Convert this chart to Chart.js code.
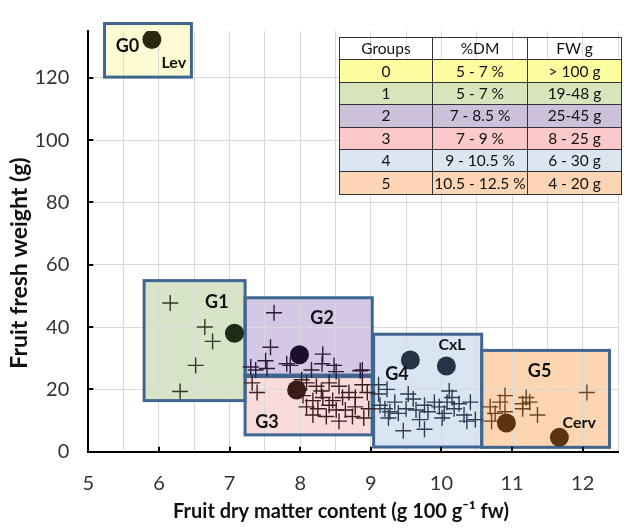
<!DOCTYPE html>
<html>
<head>
<meta charset="utf-8">
<script src="https://cdn.jsdelivr.net/npm/chart.js@4.4.1/dist/chart.umd.min.js"></script>
<style>
  html, body { margin: 0; padding: 0; background: #ffffff; }
  #wrap { position: relative; width: 638px; height: 528px; overflow: hidden; }
  #c { position: absolute; left: 0; top: 0; }
  #tbl { position: absolute; left: 339px; top: 37px; border-collapse: collapse;
         font-family: Lato, "Open Sans", sans-serif; font-size: 15.5px; color: #111; }
  #tbl td { border: 1px solid #333; height: 21.4px; padding: 0; text-align: center; line-height: 21px; }
  #tbl td.c0 { width: 92px; } #tbl td.c1 { width: 94px; } #tbl td.c2 { width: 93px; }
</style>
</head>
<body>
<div id="wrap">
  <canvas id="c" width="638" height="528"></canvas>
  <table id="tbl"></table>
</div>
<script>
// ---------- DATA ----------
const xTickValues = [5, 6, 7, 8, 9, 10, 11, 12];
const yTickValues = [0, 20, 40, 60, 80, 100, 120];
const xTitle = 'Fruit dry matter content (g 100 g\u207B\u00B9 fw)';
const yTitle = 'Fruit fresh weight (g)';

// crosses per group (x = %DM, y = fresh weight g)
const g1X = [6.16, 6.65, 6.76, 6.52, 6.30];
const g1Y = [47.7, 40.0, 35.4, 27.7, 19.3];

const g2X = [7.63, 7.58, 7.51, 7.53, 7.30, 7.37, 7.81, 7.86, 8.32, 8.31, 8.48, 8.51, 8.85, 8.16, 8.88];
const g2Y = [44.6, 33.5, 29.2, 26.7, 27.2, 26.2, 28.2, 27.7, 31.3, 28.2, 27.7, 25.7, 26.0, 26.2, 26.2];

const g3X = [7.39, 7.32, 8.09, 8.23, 8.41, 8.55, 8.69, 8.04, 8.18, 8.32, 8.46, 8.60, 8.78, 8.95, 8.88,
             8.09, 8.25, 8.41, 8.51, 8.18, 8.37, 8.55, 8.74, 8.90, 8.64, 7.97, 8.78, 8.97, 8.30, 8.02];
const g3Y = [19.0, 22.1, 22.1, 21.0, 22.1, 21.0, 19.0, 18.0, 16.4, 17.4, 16.4, 17.4, 17.4, 19.0, 21.5,
             14.4, 13.8, 14.9, 13.4, 11.8, 11.3, 9.8, 11.3, 10.8, 13.4, 19.5, 14.4, 13.8, 19.5, 23.1];

const g4X = [9.11, 9.23, 9.13, 9.20, 9.27, 9.34, 9.25, 9.53, 9.60, 9.50, 9.64, 9.76, 9.81, 9.69, 9.46, 9.76,
             9.90, 9.97, 10.11, 10.15, 10.08, 10.18, 10.04, 10.25, 10.32, 10.41, 10.48, 9.11, 9.39, 10.01, 10.36];
const g4Y = [18.5, 20.0, 14.9, 13.8, 12.8, 15.9, 10.8, 18.5, 16.9, 13.8, 13.4, 14.9, 12.8, 10.3, 6.7, 7.2,
             15.9, 14.4, 19.5, 17.4, 15.9, 13.8, 12.3, 15.4, 11.8, 15.9, 10.3, 21.5, 12.3, 10.8, 9.8];

const g5X = [10.90, 10.83, 10.69, 10.76, 10.71, 10.90, 11.20, 11.15, 11.25, 11.15, 11.36, 12.06];
const g5Y = [18.0, 15.9, 14.4, 12.3, 9.8, 12.8, 17.4, 15.4, 15.9, 13.8, 11.8, 19.0];

// reference cultivars (large dots)
const refX = [5.90, 7.07, 7.99, 7.95, 9.56, 10.07, 10.92, 11.67];
const refY = [132.3, 38.0, 31.1, 19.8, 29.4, 27.5, 9.2, 4.6];
const refGroup = [0, 1, 2, 3, 4, 4, 5, 5];

// group boxes (ranges in data units)
const boxGroup = [0, 1, 2, 3, 4, 5];
const boxXMin = [5.23, 5.79, 7.22, 7.22, 9.04, 10.57];
const boxXMax = [6.46, 7.22, 9.02, 9.02, 10.57, 12.38];
const boxYMin = [120.2, 16.4, 24.6, 5.4, 1.5, 1.4];
const boxYMax = [137.4, 54.9, 49.4, 24.1, 37.7, 32.5];

// text annotations
const noteText = ['G0', 'Lev', 'G1', 'G2', 'G3', 'G4', 'CxL', 'G5', 'Cerv'];
const noteX = [5.555, 6.21, 6.82, 8.31, 7.53, 9.37, 10.15, 11.39, 11.95];
const noteY = [130.0, 124.8, 47.9, 43.0, 9.4, 24.8, 34.4, 25.8, 9.4];

// table
const tableHeader = ['Groups', '%DM', 'FW g'];
const tableGroups = ['0', '1', '2', '3', '4', '5'];
const tableDM = ['5 - 7 %', '5 - 7 %', '7 - 8.5 %', '7 - 9 %', '9 - 10.5 %', '10.5 - 12.5 %'];
const tableFW = ['> 100 g', '19-48 g', '25-45 g', '8 - 25 g', '6 - 30 g', '4 - 20 g'];

// ---------- STYLES ----------
const FONT = 'Lato, "Open Sans", sans-serif';
const boxFill = ['#fdfbd3', '#d8e4c8', '#d4c8e6', '#fadbdb', '#dae5f3', '#fcd6b2'];
const boxStroke = '#3f6690';
const crossColor = ['#333', '#2b3a1e', '#2c1a3a', '#3e1f1f', '#2b3d50', '#6b4420'];
const dotColor = ['#2b2a0e', '#1e2b16', '#1c0f2e', '#3b1c18', '#243447', '#5b3513'];
const rowFill = ['#fdfca0', '#d8e4bc', '#ccc0da', '#fbc9c9', '#dce6f1', '#fcd5b4'];

// ---------- TABLE (HTML) ----------
(function buildTable() {
  const t = document.getElementById('tbl');
  let html = '<tr>' + tableHeader.map((h, i) => `<td class="c${i}">${h}</td>`).join('') + '</tr>';
  tableGroups.forEach((g, i) => {
    html += `<tr style="background:${rowFill[i]}"><td class="c0">${g}</td><td class="c1">${tableDM[i]}</td><td class="c2">${tableFW[i]}</td></tr>`;
  });
  t.innerHTML = html;
})();

// ---------- CHART ----------
const zip = (xs, ys) => xs.map((x, i) => ({ x, y: ys[i] }));
const crossSets = [[g1X, g1Y], [g2X, g2Y], [g3X, g3Y], [g4X, g4Y], [g5X, g5Y]].map((s, i) => ({
  label: 'G' + (i + 1),
  data: zip(s[0], s[1]),
  pointStyle: 'cross',
  pointRadius: 8,
  pointHoverRadius: 8,
  borderColor: crossColor[i + 1],
  backgroundColor: crossColor[i + 1],
  pointBorderWidth: 1.4,
  order: 2
}));

const boxesPlugin = {
  id: 'boxes',
  beforeDraw(chart) {
    const { ctx, scales: { x, y } } = chart;
    ctx.save();
    boxGroup.forEach((g, i) => {
      const l = x.getPixelForValue(boxXMin[i]), r = x.getPixelForValue(boxXMax[i]);
      const t = y.getPixelForValue(boxYMax[i]), b = y.getPixelForValue(boxYMin[i]);
      ctx.fillStyle = boxFill[g];
      ctx.fillRect(l, t, r - l, b - t);
    });
    ctx.restore();
  },
  beforeDatasetsDraw(chart) {
    const { ctx, scales: { x, y } } = chart;
    ctx.save();
    ctx.strokeStyle = boxStroke;
    ctx.lineWidth = 3;
    boxGroup.forEach((g, i) => {
      const l = x.getPixelForValue(boxXMin[i]), r = x.getPixelForValue(boxXMax[i]);
      const t = y.getPixelForValue(boxYMax[i]), b = y.getPixelForValue(boxYMin[i]);
      ctx.strokeRect(l, t, r - l, b - t);
    });
    // inner tick marks
    ctx.strokeStyle = '#000';
    ctx.lineWidth = 2;
    const y0 = y.getPixelForValue(0), x0 = x.getPixelForValue(5);
    xTickValues.forEach(v => {
      if (v === 5) return;
      const px = Math.round(x.getPixelForValue(v));
      ctx.beginPath(); ctx.moveTo(px, y0); ctx.lineTo(px, y0 - 5); ctx.stroke();
    });
    yTickValues.forEach(v => {
      if (v === 0) return;
      const py = Math.round(y.getPixelForValue(v));
      ctx.beginPath(); ctx.moveTo(x0, py); ctx.lineTo(x0 + 5, py); ctx.stroke();
    });
    ctx.restore();
  },
  afterDatasetsDraw(chart) {
    const { ctx, scales: { x, y } } = chart;
    ctx.save();
    ctx.fillStyle = '#111';
    ctx.textAlign = 'center';
    ctx.textBaseline = 'middle';
    noteText.forEach((t, i) => {
      const big = t.startsWith('G');
      ctx.font = `bold ${big ? 18 : 16}px ${FONT}`;
      ctx.fillText(t, x.getPixelForValue(noteX[i]), y.getPixelForValue(noteY[i]));
    });
    ctx.restore();
  },
  afterDraw(chart) {
    // axis titles (placed as in the original figure)
    const { ctx } = chart;
    ctx.save();
    ctx.fillStyle = '#111';
    ctx.textAlign = 'center';
    ctx.textBaseline = 'middle';
    ctx.font = `bold 20px ${FONT}`;
    ctx.fillText(xTitle, 341, 512);
    ctx.translate(20, 263);
    ctx.rotate(-Math.PI / 2);
    ctx.font = `bold 23px ${FONT}`;
    ctx.fillText(yTitle, 0, 0);
    ctx.restore();
  }
};

new Chart(document.getElementById('c'), {
  type: 'scatter',
  data: {
    datasets: [
      ...crossSets,
      {
        label: 'ref',
        data: zip(refX, refY),
        pointStyle: 'circle',
        pointRadius: 9.5,
        pointHoverRadius: 9.5,
        backgroundColor: refGroup.map(g => dotColor[g]),
        borderColor: refGroup.map(g => dotColor[g]),
        borderWidth: 0,
        order: 1
      }
    ]
  },
  options: {
    responsive: false,
    devicePixelRatio: 1,
    animation: false,
    events: [],
    layout: { padding: { top: 13, right: 11, left: 0, bottom: 0 } },
    plugins: { legend: { display: false }, tooltip: { enabled: false } },
    scales: {
      x: {
        type: 'linear',
        min: 5, max: 12.5,
        afterFit(s) { s.height = 76.3; },
        grid: { color: '#d9d9d9', lineWidth: 1, drawTicks: false },
        border: { color: '#000', width: 2 },
        ticks: {
          stepSize: 0.5, autoSkip: false, maxRotation: 0, padding: 20,
          color: '#333', font: { family: FONT, size: 20 },
          callback: v => (xTickValues.includes(v) ? String(v) : '')
        },
        title: { display: false }
      },
      y: {
        type: 'linear',
        min: 0, max: 135,
        afterFit(s) { s.width = 88.3; },
        afterBuildTicks(s) { s.ticks = s.ticks.filter(t => yTickValues.includes(t.value)); },
        grid: { color: '#d9d9d9', lineWidth: 1, drawTicks: false },
        border: { color: '#000', width: 2 },
        ticks: {
          stepSize: 20, padding: 19, color: '#333', font: { family: FONT, size: 20 }
        },
        title: { display: false }
      }
    }
  },
  plugins: [boxesPlugin]
});
</script>
</body>
</html>
